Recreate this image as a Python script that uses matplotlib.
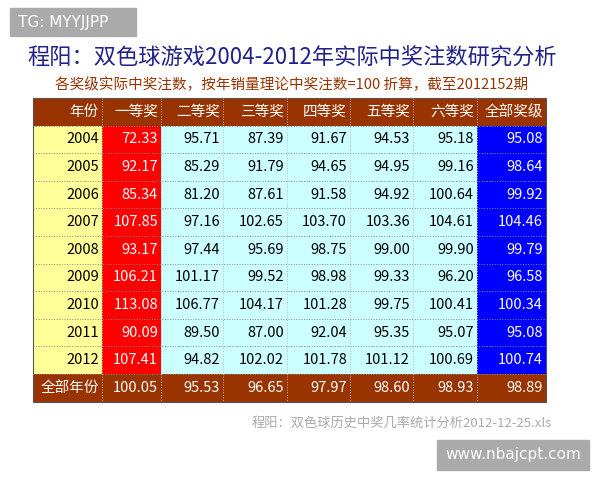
import matplotlib
matplotlib.use("Agg")
import matplotlib.pyplot as plt
from matplotlib.patches import Rectangle

plt.rcParams['font.family'] = ['Noto Sans CJK SC', 'DejaVu Sans']

headers = ["年份", "一等奖", "二等奖", "三等奖", "四等奖", "五等奖", "六等奖", "全部奖级"]
years = ["2004", "2005", "2006", "2007", "2008", "2009", "2010", "2011", "2012"]
first = [72.33, 92.17, 85.34, 107.85, 93.17, 106.21, 113.08, 90.09, 107.41]
second = [95.71, 85.29, 81.20, 97.16, 97.44, 101.17, 106.77, 89.50, 94.82]
third = [87.39, 91.79, 87.61, 102.65, 95.69, 99.52, 104.17, 87.00, 102.02]
fourth = [91.67, 94.65, 91.58, 103.70, 98.75, 98.98, 101.28, 92.04, 101.78]
fifth = [94.53, 94.95, 94.92, 103.36, 99.00, 99.33, 99.75, 95.35, 101.12]
sixth = [95.18, 99.16, 100.64, 104.61, 99.90, 96.20, 100.41, 95.07, 100.69]
total = [95.08, 98.64, 99.92, 104.46, 99.79, 96.58, 100.34, 95.08, 100.74]
all_years_label = "全部年份"
all_years = [100.05, 95.53, 96.65, 97.97, 98.60, 98.93, 98.89]

W, H = 600, 480
fig = plt.figure(figsize=(6, 4.8), dpi=100)
ax = fig.add_axes([0, 0, 1, 1])
ax.set_xlim(0, W); ax.set_ylim(H, 0); ax.axis('off')

ax.add_patch(Rectangle((10, 8), 126, 28, color='#aaaaaa'))
ax.text(18, 22, "TG: MYYJJPP", color='white', fontsize=11, va='center', family=['DejaVu Sans'])
ax.add_patch(Rectangle((437, 440), 152, 30, color='#aaaaaa'))
ax.text(513, 455, "www.nbajcpt.com", color='white', fontsize=11, va='center', ha='center', family=['DejaVu Sans'])

ax.text(292, 58, "程阳：双色球游戏2004-2012年实际中奖注数研究分析", color='#22228a', fontsize=16, ha='center', va='center')
ax.text(292, 85, "各奖级实际中奖注数，按年销量理论中奖注数=100 折算，截至2012152期", color='#993300', fontsize=10.5, ha='center', va='center')

xe = [33, 102, 161, 223, 287, 350, 413, 477, 546]
y0, rh = 98, 27.6
brown = '#993300'
cols = [first, second, third, fourth, fifth, sixth, total]

def cell(ci, ri, txt, bg, fg):
    x0, x1 = xe[ci], xe[ci + 1]
    yt = y0 + ri * rh
    ax.add_patch(Rectangle((x0, yt), x1 - x0, rh, facecolor=bg, edgecolor='none'))
    ax.text(x1 - 3, yt + rh / 2, txt, ha='right', va='center', color=fg, fontsize=10.5)

for ci, h in enumerate(headers):
    cell(ci, 0, h, brown, 'white')
for ri, yr in enumerate(years):
    cell(0, ri + 1, yr, '#ffff99', 'black')
    for ci, col in enumerate(cols):
        if ci == 0:
            bg, fg = '#ff0000', 'white'
        elif ci == 6:
            bg, fg = '#0000ff', 'white'
        else:
            bg, fg = '#ccffff', 'black'
        cell(ci + 1, ri + 1, f"{col[ri]:.2f}", bg, fg)
nr = len(years) + 1
cell(0, nr, all_years_label, brown, 'white')
for ci, v in enumerate(all_years):
    cell(ci + 1, nr, f"{v:.2f}", brown, 'white')

ybot = y0 + (nr + 1) * rh
for x in xe[1:-1]:
    ax.plot([x, x], [y0, ybot], color='#bbbbbb', lw=0.7, ls=':')
for r in range(1, nr + 1):
    yy = y0 + r * rh
    ax.plot([xe[0], xe[-1]], [yy, yy], color='#888888', lw=0.7, ls=':')
ax.add_patch(Rectangle((xe[0], y0), xe[-1] - xe[0], ybot - y0, fill=False, edgecolor='#555555', lw=0.8))

ax.text(552, 423, "程阳：双色球历史中奖几率统计分析2012-12-25.xls", color='#aaaaaa', fontsize=9.5, ha='right', va='center')

fig.savefig("out.png", dpi=100)
